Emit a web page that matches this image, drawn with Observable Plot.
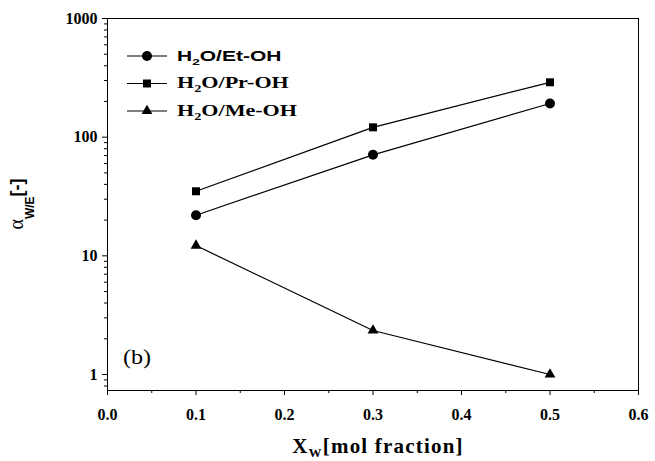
<!DOCTYPE html>
<html><head><meta charset="utf-8">
<script src="https://cdn.jsdelivr.net/npm/d3@7"></script>
<script src="https://cdn.jsdelivr.net/npm/@observablehq/plot@0.6"></script>
<style>body{margin:0;background:#fff}</style>
</head><body><div id="chart"></div>
<script>
// ---- data ----
const xw = [0.1, 0.3, 0.5];
const etoh = [22, 71, 192];
const proh = [35, 121, 290];
const meoh = [12.2, 2.35, 1.0];
const seriesKeys = ["Et", "Pr", "Me"];
const seriesSymbols = ["circle", "square", "triangle"];
const seriesRadius = [5, 4.5, 4];
const legendParts = [
  {pre: "H", sub: "2", post: "O/Et-OH", font: "'Liberation Sans', Arial, sans-serif", size: 15, sx: 1.4},
  {pre: "H", sub: "2", post: "O/Pr-OH", font: "'Liberation Serif', 'Times New Roman', serif", size: 16, sx: 1.38},
  {pre: "H", sub: "2", post: "O/Me-OH", font: "'Liberation Serif', 'Times New Roman', serif", size: 16, sx: 1.38}
];
const xTicks = [0, 0.1, 0.2, 0.3, 0.4, 0.5, 0.6];
const xMinor = [0.05, 0.15, 0.25, 0.35, 0.45, 0.55];
const yTicks = [1, 10, 100, 1000];
const yMinor = [0.8, 0.9, 2, 3, 4, 5, 6, 7, 8, 9, 20, 30, 40, 50, 60, 70, 80, 90, 200, 300, 400, 500, 600, 700, 800, 900];
const panelLabel = "(b)";

const rows = [];
[etoh, proh, meoh].forEach((vals, i) => xw.forEach((x, j) => rows.push({series: seriesKeys[i], x, y: vals[j]})));

const serif = "'Liberation Serif', 'Times New Roman', serif";
const sans = "'Liberation Sans', Arial, sans-serif";

function decorations(index, scales, values, dimensions) {
  const {marginLeft: ml, marginTop: mt, marginBottom: mb, width, height} = dimensions;
  const g = d3.create("svg:g").attr("text-anchor", "start");
  // legend
  legendParts.forEach((p, i) => {
    const y = mt + 38 + 27.5 * i;
    g.append("line").attr("x1", ml + 20).attr("x2", ml + 60).attr("y1", y).attr("y2", y)
      .attr("stroke", "black").attr("stroke-width", 1.2);
    const sym = {circle: d3.symbolCircle, square: d3.symbolSquare, triangle: d3.symbolTriangle}[seriesSymbols[i]];
    g.append("path").attr("d", d3.symbol(sym, Math.PI * seriesRadius[i] ** 2)())
      .attr("transform", `translate(${ml + 40},${y})`).attr("fill", "black");
    const t = g.append("text").attr("transform", `translate(${ml + 70},${y + 4.5}) scale(${p.sx},1)`)
      .attr("text-anchor", "start")
      .attr("font-family", p.font).attr("font-weight", "bold").attr("font-size", p.size).attr("fill", "black");
    t.append("tspan").text(p.pre);
    t.append("tspan").attr("dy", 4).attr("font-size", p.size * 0.65).text(p.sub);
    t.append("tspan").attr("dy", -4).text(p.post);
  });
  // panel label
  g.append("text").attr("transform", `translate(${ml + 16},${height - mb - 26}) scale(1.15,1)`).attr("text-anchor", "start")
    .attr("font-family", serif).attr("font-size", 21).attr("fill", "black").text(panelLabel);
  // y label
  const yl = g.append("text").attr("transform", `translate(23,204) rotate(-90)`)
    .attr("text-anchor", "middle").attr("fill", "black");
  yl.append("tspan").attr("font-family", serif).attr("font-size", 20).text("α");
  yl.append("tspan").attr("dy", 11).attr("font-family", sans).attr("font-weight", "bold").attr("font-size", 12).text("W/E");
  yl.append("tspan").attr("dy", -11).attr("font-family", sans).attr("font-weight", "bold").attr("font-size", 18).text("[-]");
  // x label
  const xl = g.append("text").attr("x", 378).attr("y", height - 8)
    .attr("text-anchor", "middle").attr("fill", "black")
    .attr("font-family", serif).attr("font-weight", "bold").attr("font-size", 21).attr("letter-spacing", 1.2);
  xl.append("tspan").text("X");
  xl.append("tspan").attr("dy", 4).attr("font-size", 13).text("W");
  xl.append("tspan").attr("dy", -4).text("[mol fraction]");
  return g.node();
}

const plot = Plot.plot({
  width: 655,
  height: 461,
  marginLeft: 107,
  marginRight: 17,
  marginTop: 18,
  marginBottom: 71,
  style: {background: "white", color: "black", fontFamily: serif},
  x: {domain: [0, 0.6]},
  y: {type: "log", domain: [0.733, 1000]},
  marks: [
    Plot.frame({stroke: "black", strokeWidth: 1}),
    Plot.axisX({ticks: xTicks, tickSize: 5, tickPadding: 13, tickFormat: d => d.toFixed(1),
      fontSize: 16, fontWeight: "bold", fontFamily: serif, letterSpacing: 1.5, label: null}),
    Plot.axisX({ticks: xMinor, tickSize: 3, tickFormat: null, text: null, label: null}),
    Plot.axisY({ticks: yTicks, tickSize: 5, tickPadding: 5, tickFormat: d => String(d),
      fontSize: 16, fontWeight: "bold", fontFamily: serif, letterSpacing: 2, label: null}),
    Plot.axisY({ticks: yMinor, tickSize: 3, text: null, label: null}),
    Plot.line(rows, {x: "x", y: "y", z: "series", stroke: "black", strokeWidth: 1.2}),
    ...seriesKeys.map((k, i) => Plot.dot(rows.filter(d => d.series === k),
      {x: "x", y: "y", symbol: () => seriesSymbols[i], r: seriesRadius[i], fill: "black", stroke: "none"})),
    decorations
  ]
});
document.getElementById("chart").appendChild(plot);
</script>
</body></html>
